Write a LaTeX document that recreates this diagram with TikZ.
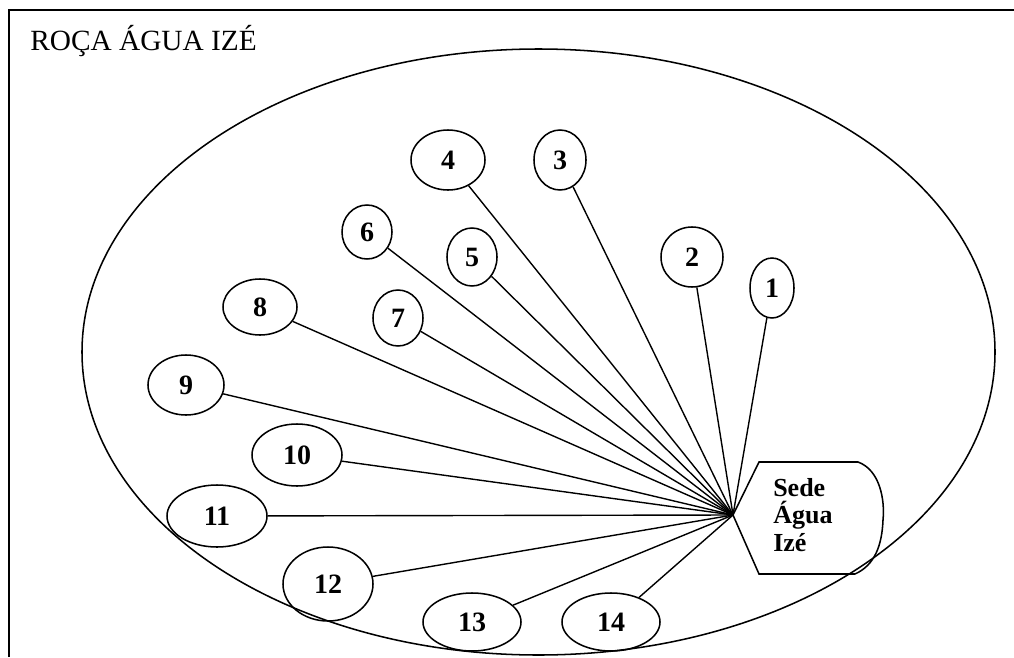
\documentclass[tikz,border=0pt]{standalone}
\usepackage{fontspec}
\setmainfont{Liberation Serif}
\usepackage{tikz}
\usetikzlibrary{shapes.geometric}

\tikzset{
  farm/.style={draw, ellipse, inner sep=0pt, line width=1.15pt, font=\bfseries\fontsize{21}{25}\selectfont},
  link/.style={line width=1.05pt}
}

\begin{document}
\begin{tikzpicture}[x=0.75pt,y=0.75pt,yscale=-1,xscale=1]
	\useasboundingbox (0,0) rectangle (1014,657);
	
	%Frame
	\draw [line width=1.2pt]  (9,657) -- (9,10) -- (1014,10) ;
	% Text Node
	\node (title) [anchor=base west, inner sep=0pt, font=\fontsize{22}{26}\selectfont] at (30,50) {ROÇA ÁGUA IZÉ};
	
	%Shape: Ellipse (roça)
	\draw [line width=1.15pt]  (538.5,352) ellipse [x radius=456.5, y radius=303] ;
	
	%Shape: Sede
	\coordinate (hub) at (733,515);
	\draw [line width=1.15pt]  (hub) -- (759,462) -- (858,462) .. controls (880,470) and (885,500) .. (883,520) .. controls (882,545) and (875,565) .. (855,574) -- (759,574) -- cycle ;
	% Text Node
	\node (sede) [anchor=north west, inner sep=0pt, align=left, font=\bfseries\fontsize{19.5}{20.6}\selectfont] at (773,478) {Sede\\Água\\Izé};
	
	% Ellipses
	\node (n1) [farm, minimum width=33pt, minimum height=45pt] at (772,288) {1};
	\node (n2) [farm, minimum width=46.5pt, minimum height=45pt] at (692,257) {2};
	\node (n3) [farm, minimum width=39pt, minimum height=45pt] at (560,160) {3};
	\node (n4) [farm, minimum width=55.5pt, minimum height=45pt] at (448,160) {4};
	\node (n5) [farm, minimum width=37.5pt, minimum height=43.5pt] at (472,257) {5};
	\node (n6) [farm, minimum width=37.5pt, minimum height=40.5pt] at (367,232) {6};
	\node (n7) [farm, minimum width=37.5pt, minimum height=42pt] at (398,318) {7};
	\node (n8) [farm, minimum width=55.5pt, minimum height=42pt] at (260,307) {8};
	\node (n9) [farm, minimum width=57pt, minimum height=45pt] at (186,385) {9};
	\node (n10) [farm, minimum width=67.5pt, minimum height=46.5pt] at (297,455) {10};
	\node (n11) [farm, minimum width=75pt, minimum height=46.5pt] at (217,516) {11};
	\node (n12) [farm, minimum width=67.5pt, minimum height=55.5pt] at (328,584) {12};
	\node (n13) [farm, minimum width=73.5pt, minimum height=43.5pt] at (472,622) {13};
	\node (n14) [farm, minimum width=73.5pt, minimum height=43.5pt] at (611,622) {14};
	
	%Straight Lines
	\draw [link]  (n1) -- (hub) ;
	\draw [link]  (n2) -- (hub) ;
	\draw [link]  (n3) -- (hub) ;
	\draw [link]  (n4) -- (hub) ;
	\draw [link]  (n5) -- (hub) ;
	\draw [link]  (n6) -- (hub) ;
	\draw [link]  (n7) -- (hub) ;
	\draw [link]  (n8) -- (hub) ;
	\draw [link]  (n9) -- (hub) ;
	\draw [link]  (n10) -- (hub) ;
	\draw [link]  (n11) -- (hub) ;
	\draw [link]  (n12) -- (hub) ;
	\draw [link]  (n13) -- (hub) ;
	\draw [link]  (n14) -- (hub) ;
\end{tikzpicture}
\end{document}
